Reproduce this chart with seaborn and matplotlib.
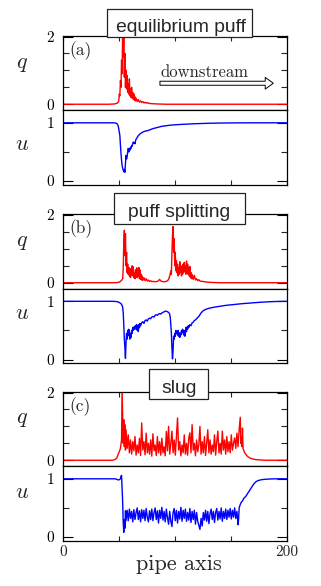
import matplotlib
matplotlib.use("Agg")
import matplotlib.pyplot as plt
from matplotlib.patches import Rectangle
import seaborn as sns

# ---------------- data ----------------
titles = ["equilibrium puff", "puff splitting", "slug"]
tags = ["(a)", "(b)", "(c)"]
x_label = "pipe axis"
arrow_label = "downstream"

x_ticks = [0, 50, 100, 150, 200]
x_tick_labels = ["0", "", "", "", "200"]
q_ticks = [0, 2]
q_tick_labels = ["0", "2"]
q_minor = [0.5, 1.0, 1.5]
u_ticks = [0, 1]
u_tick_labels = ["0", "1"]
u_minor = [0.5]

# (a) equilibrium puff : (pipe position, value)
a_q = [(0, 0.0), (40, 0.0), (44, 0.005), (46, 0.01), (47, 0.02), (48, 0.03), (49, 0.06),
       (49.5, 0.1), (50, 0.3), (50.5, 0.25), (51, 0.7), (51.5, 0.5), (52, 1.3), (52.5, 0.9),
       (53, 2.1), (53.5, 1.4), (54, 2.1), (54.5, 0.8), (55, 1.5), (55.5, 0.5), (56, 1.0),
       (56.5, 0.45), (57, 0.85), (57.5, 0.35), (58, 0.6), (58.5, 0.3), (59, 0.75), (59.5, 0.25),
       (60, 0.45), (60.5, 0.2), (61, 0.5), (61.5, 0.18), (62, 0.35), (62.5, 0.15), (63, 0.3),
       (63.5, 0.12), (64, 0.22), (64.5, 0.1), (65, 0.18), (66, 0.08), (67, 0.14), (68, 0.06),
       (69, 0.1), (70, 0.05), (71, 0.08), (72, 0.04), (73, 0.06), (74, 0.03), (75, 0.05),
       (76, 0.03), (78, 0.02), (80, 0.015), (83, 0.01), (87, 0.005), (92, 0.0), (200, 0.0)]
a_u = [(0, 1.0), (44, 1.0), (46, 0.998), (47, 0.995), (48, 0.985), (49, 0.95), (49.5, 0.9),
       (50, 0.84), (50.5, 0.78), (51, 0.62), (51.5, 0.48), (52, 0.36), (52.5, 0.27), (53, 0.22),
       (53.5, 0.19), (54, 0.16), (54.5, 0.2), (55, 0.15), (55.5, 0.3), (56, 0.44), (56.5, 0.38),
       (57, 0.42), (57.5, 0.5), (58, 0.56), (58.5, 0.5), (59, 0.55), (59.5, 0.53), (60, 0.58),
       (60.5, 0.56), (61, 0.61), (61.5, 0.6), (62, 0.64), (62.5, 0.67), (63, 0.65), (63.5, 0.66),
       (64, 0.64), (64.5, 0.69), (65, 0.72), (65.5, 0.73), (66, 0.75), (67, 0.78), (68, 0.8),
       (70, 0.83), (72, 0.85), (74, 0.86), (76, 0.87), (80, 0.9), (84, 0.92), (88, 0.94),
       (92, 0.95), (96, 0.96), (100, 0.966), (105, 0.972), (110, 0.977), (115, 0.982),
       (120, 0.986), (130, 0.992), (140, 0.996), (155, 0.999), (170, 1.0), (200, 1.0)]

# (b) puff splitting
b_q = [(0, 0.0), (44, 0.0), (48, 0.005), (50, 0.02), (51, 0.04), (52, 0.07), (53, 0.12),
       (53.5, 0.4), (54, 1.2), (54.5, 1.55), (55, 0.8), (55.5, 1.45), (56, 0.5), (56.5, 0.9),
       (57, 0.3), (57.5, 0.55), (58, 0.25), (58.5, 0.45), (59, 0.2), (59.5, 0.35), (60, 0.15),
       (60.5, 0.42), (61, 0.22), (61.5, 0.5), (62, 0.2), (62.5, 0.47), (63, 0.15), (63.5, 0.3),
       (64, 0.12), (64.5, 0.38), (65, 0.18), (65.5, 0.44), (66, 0.15), (66.5, 0.4), (67, 0.2),
       (67.5, 0.45), (68, 0.12), (68.5, 0.38), (69, 0.1), (69.5, 0.25), (70, 0.08), (70.5, 0.2),
       (71, 0.07), (72, 0.15), (73, 0.06), (74, 0.12), (75, 0.05), (76, 0.08), (77, 0.04),
       (78, 0.06), (79, 0.03), (80, 0.04), (82, 0.03), (84, 0.04), (85, 0.06), (86, 0.1),
       (87, 0.05), (88, 0.04), (90, 0.03), (92, 0.04), (93, 0.06), (94, 0.1), (95, 0.2),
       (96, 0.35), (96.5, 0.25), (97, 0.9), (97.5, 1.4), (98, 1.66), (98.5, 0.9), (99, 1.3),
       (99.5, 0.5), (100, 0.9), (100.5, 0.35), (101, 0.65), (101.5, 0.3), (102, 0.55),
       (102.5, 0.2), (103, 0.45), (103.5, 0.25), (104, 0.62), (104.5, 0.3), (105, 0.5),
       (105.5, 0.2), (106, 0.4), (106.5, 0.25), (107, 0.55), (107.5, 0.3), (108, 0.6),
       (108.5, 0.35), (109, 0.5), (109.5, 0.25), (110, 0.64), (110.5, 0.3), (111, 0.55),
       (111.5, 0.25), (112, 0.45), (112.5, 0.2), (113, 0.48), (113.5, 0.15), (114, 0.3),
       (114.5, 0.12), (115, 0.25), (116, 0.1), (117, 0.22), (118, 0.08), (119, 0.12),
       (120, 0.06), (121, 0.09), (122, 0.05), (124, 0.04), (126, 0.03), (128, 0.02),
       (132, 0.01), (140, 0.0), (200, 0.0)]
b_u = [(0, 1.0), (44, 1.0), (48, 0.995), (50, 0.98), (52, 0.95), (53, 0.9), (53.5, 0.8),
       (54, 0.6), (54.5, 0.35), (55, 0.2), (55.5, 0.02), (56, 0.3), (56.5, 0.45), (57, 0.35),
       (57.5, 0.5), (58, 0.42), (58.5, 0.52), (59, 0.4), (59.5, 0.35), (60, 0.45), (60.5, 0.38),
       (61, 0.5), (61.5, 0.45), (62, 0.55), (62.5, 0.5), (63, 0.53), (63.5, 0.57), (64, 0.52),
       (64.5, 0.58), (65, 0.55), (65.5, 0.6), (66, 0.5), (66.5, 0.58), (67, 0.48), (67.5, 0.6),
       (68, 0.55), (68.5, 0.62), (69, 0.58), (70, 0.63), (71, 0.65), (72, 0.62), (73, 0.67),
       (74, 0.68), (75, 0.66), (76, 0.7), (77, 0.71), (78, 0.7), (79, 0.73), (80, 0.74),
       (81, 0.73), (82, 0.76), (83, 0.77), (84, 0.76), (85, 0.78), (86, 0.79), (87, 0.78),
       (88, 0.8), (89, 0.81), (90, 0.82), (91, 0.83), (92, 0.83), (93, 0.82), (94, 0.81),
       (95, 0.78), (95.5, 0.72), (96, 0.6), (96.5, 0.45), (97, 0.2), (97.5, 0.01), (98, 0.15),
       (98.5, 0.4), (99, 0.35), (99.5, 0.45), (100, 0.4), (100.5, 0.5), (101, 0.45),
       (101.5, 0.48), (102, 0.42), (102.5, 0.5), (103, 0.4), (103.5, 0.46), (104, 0.38),
       (104.5, 0.45), (105, 0.42), (105.5, 0.5), (106, 0.46), (106.5, 0.52), (107, 0.48),
       (107.5, 0.42), (108, 0.5), (108.5, 0.4), (109, 0.45), (109.5, 0.55), (110, 0.48),
       (110.5, 0.56), (111, 0.52), (111.5, 0.58), (112, 0.55), (113, 0.6), (114, 0.58),
       (115, 0.63), (116, 0.64), (117, 0.67), (118, 0.68), (119, 0.7), (120, 0.72),
       (121, 0.74), (122, 0.77), (123, 0.8), (124, 0.82), (125, 0.84), (127, 0.86),
       (130, 0.88), (135, 0.9), (140, 0.915), (145, 0.93), (150, 0.94), (155, 0.95),
       (160, 0.96), (165, 0.967), (170, 0.975), (175, 0.982), (180, 0.988), (185, 0.993),
       (190, 0.997), (200, 1.0)]

# (c) slug
c_q = [(0, 0.0), (44, 0.0), (46, 0.02), (47, 0.04), (48, 0.08), (49, 0.18), (50, 0.25),
       (51, 0.35), (52, 0.6), (52.5, 2.1), (53, 1.3), (53.5, 0.5), (54, 1.2), (54.5, 0.4),
       (55, 1.05), (55.5, 0.3), (56, 0.9), (57, 0.35), (58, 0.75), (59, 0.22), (60, 0.6),
       (61, 0.18), (62, 0.55), (63, 0.28), (64, 0.7), (65, 0.15), (66, 0.45), (67, 0.22),
       (68, 0.65), (69, 0.14), (70, 1.1), (71, 0.3), (72, 0.55), (73, 0.16), (74, 0.8),
       (75, 0.22), (76, 0.5), (77, 0.18), (78, 0.6), (79, 0.12), (80, 0.78), (81, 0.28),
       (82, 0.45), (83, 0.14), (84, 0.7), (85, 0.22), (86, 0.55), (87, 0.15), (88, 0.65),
       (89, 0.22), (90, 0.4), (91, 0.13), (92, 0.85), (93, 0.28), (94, 1.0), (95, 0.18),
       (96, 0.5), (97, 0.86), (98, 0.22), (99, 0.6), (100, 0.15), (101, 0.7), (102, 1.25),
       (103, 0.3), (104, 0.55), (105, 0.13), (106, 0.45), (107, 0.22), (108, 0.75), (109, 0.18),
       (110, 0.5), (111, 0.15), (112, 0.65), (113, 0.81), (114, 0.22), (115, 1.05), (116, 0.3),
       (117, 0.5), (118, 0.13), (119, 0.6), (120, 0.25), (121, 0.45), (122, 1.0), (123, 0.18),
       (124, 0.55), (125, 0.22), (126, 0.7), (127, 0.14), (128, 0.5), (129, 0.9), (130, 0.22),
       (131, 0.6), (132, 0.18), (133, 0.45), (134, 0.25), (135, 0.75), (136, 0.15),
       (137, 0.55), (138, 0.86), (139, 0.22), (140, 0.5), (141, 0.18), (142, 0.86), (143, 0.3),
       (144, 0.6), (145, 0.18), (146, 0.7), (147, 0.25), (148, 0.55), (149, 0.22), (150, 0.75),
       (151, 0.3), (152, 0.5), (153, 0.66), (154, 0.35), (155, 0.8), (156, 0.4), (157, 0.9),
       (158, 1.27), (158.5, 0.5), (159, 0.7), (159.5, 0.4), (160, 0.95), (160.5, 0.35),
       (161, 0.3), (162, 0.22), (163, 0.17), (164, 0.13), (165, 0.1), (166, 0.08),
       (167, 0.06), (168, 0.05), (170, 0.03), (172, 0.02), (175, 0.01), (180, 0.0), (200, 0.0)]
c_u = [(0, 1.0), (46, 1.0), (47, 0.995), (48, 0.99), (49, 0.98), (50, 0.985), (51, 1.0),
       (51.5, 1.04), (52, 1.06), (52.5, 0.85), (53, 0.6), (53.5, 0.25), (54, 0.08), (54.5, 0.3),
       (55, 0.15), (55.5, 0.45), (56, 0.28), (57, 0.46), (58, 0.28), (59, 0.48), (60, 0.32),
       (61, 0.44), (62, 0.26), (63, 0.47), (64, 0.3), (65, 0.42), (66, 0.5), (67, 0.3),
       (68, 0.45), (69, 0.26), (70, 0.47), (71, 0.32), (72, 0.46), (73, 0.28), (74, 0.49),
       (75, 0.34), (76, 0.26), (77, 0.45), (78, 0.3), (79, 0.48), (80, 0.28), (81, 0.42),
       (82, 0.5), (83, 0.3), (84, 0.45), (85, 0.24), (86, 0.46), (87, 0.32), (88, 0.51),
       (89, 0.29), (90, 0.44), (91, 0.26), (92, 0.48), (93, 0.33), (94, 0.22), (95, 0.44),
       (96, 0.27), (97, 0.18), (98, 0.42), (99, 0.49), (100, 0.28), (101, 0.46), (102, 0.24),
       (103, 0.44), (104, 0.31), (105, 0.51), (106, 0.27), (107, 0.46), (108, 0.32), (109, 0.48),
       (110, 0.27), (111, 0.42), (112, 0.29), (113, 0.49), (114, 0.25), (115, 0.44), (116, 0.3),
       (117, 0.46), (118, 0.22), (119, 0.42), (120, 0.27), (121, 0.2), (122, 0.13), (123, 0.32),
       (124, 0.19), (125, 0.42), (126, 0.29), (127, 0.46), (128, 0.27), (129, 0.44), (130, 0.23),
       (131, 0.4), (132, 0.48), (133, 0.3), (134, 0.44), (135, 0.25), (136, 0.42),
       (137, 0.49), (138, 0.29), (139, 0.44), (140, 0.31), (141, 0.5), (142, 0.27), (143, 0.44),
       (144, 0.32), (145, 0.48), (146, 0.3), (147, 0.46), (148, 0.34), (149, 0.49),
       (150, 0.31), (151, 0.46), (152, 0.34), (153, 0.5), (154, 0.32), (155, 0.44),
       (156, 0.21), (156.5, 0.3), (157, 0.5), (158, 0.56), (159, 0.6), (160, 0.62),
       (161, 0.66), (162, 0.68), (163, 0.7), (164, 0.73), (165, 0.76), (166, 0.79),
       (167, 0.82), (168, 0.85), (169, 0.88), (170, 0.91), (171, 0.93), (172, 0.95),
       (174, 0.97), (177, 0.985), (181, 0.993), (186, 0.998), (190, 1.0), (200, 1.0)]

q_series = [a_q, b_q, c_q]
u_series = [a_u, b_u, c_u]

# ---------------- layout (pixels of a 321x586 canvas) ----------------
W, H = 321, 586
AX_LEFT, AX_W, AX_H = 63.3, 224.0, 74.5
panel_tops = [35.5, 214.0, 391.5]
boxes = [(107.3, 9.3, 252.3, 37.3), (114.3, 193.3, 245.0, 224.0), (149.3, 369.3, 208.3, 399.3)]
title_pos = [(180.5, 32.3), (179.2, 217.3), (178.7, 393.3)]
q_lab_base = [68.0, 246.0, 423.0]
u_lab_base = [150.0, 319.0, 498.0]

sns.set_style("white")
plt.rcParams["font.family"] = ["DejaVu Sans"]

SERIF = "cmr10"
ITAL = "cmmi10"
SANS = ["Liberation Sans", "DejaVu Sans"]
RED, BLUE = "#ff0000", "#0000ff"
LW = 1.0

fig = plt.figure(figsize=(W / 100, H / 100), dpi=100)
fig.patch.set_facecolor("white")


def add_ax(top):
    return fig.add_axes([AX_LEFT / W, 1 - (top + AX_H) / H, AX_W / W, AX_H / H])


def style(ax, is_q, bottom_panel):
    ax.set_facecolor("white")
    for s in ax.spines.values():
        s.set_visible(True)
        s.set_color("black")
        s.set_linewidth(0.9)
    ax.set_xlim(0, 200)
    if is_q:
        ax.set_ylim(-0.17, 2.03)
        ax.set_yticks(q_ticks, labels=q_tick_labels)
        ax.set_yticks(q_minor, minor=True)
    else:
        ax.set_ylim(-0.06, 1.22)
        ax.set_yticks(u_ticks, labels=u_tick_labels)
        ax.set_yticks(u_minor, minor=True)
    ax.set_xticks(x_ticks, labels=x_tick_labels if bottom_panel else [""] * len(x_ticks))
    ax.tick_params(axis="y", which="major", direction="in", length=7.2, width=0.8,
                   left=True, right=True, pad=6.5, labelsize=11, colors="black")
    ax.tick_params(axis="y", which="minor", direction="in", length=4.3, width=0.8,
                   left=True, right=True)
    ax.tick_params(axis="x", which="major", direction="in", length=3.6, width=0.8,
                   top=is_q, bottom=not is_q, labelbottom=(bottom_panel and not is_q),
                   labeltop=False, pad=3.5, labelsize=11)
    for lab in ax.get_yticklabels() + ax.get_xticklabels():
        lab.set_fontfamily(SERIF)
    ax.set_xlabel("")
    ax.set_ylabel("")


for i in range(3):
    top = panel_tops[i]
    axq = add_ax(top)
    axu = add_ax(top + AX_H)
    xq, yq = zip(*q_series[i])
    xu, yu = zip(*u_series[i])
    sns.lineplot(x=list(xq), y=list(yq), ax=axq, color=RED, linewidth=LW,
                 estimator=None, sort=False)
    sns.lineplot(x=list(xu), y=list(yu), ax=axu, color=BLUE, linewidth=LW,
                 estimator=None, sort=False)
    style(axq, True, i == 2)
    style(axu, False, i == 2)

    axq.text(0.028, 0.925, tags[i], transform=axq.transAxes, ha="left", va="top",
             fontfamily=SERIF, fontsize=12.5)

    # title box
    x0, y0, x1, y1 = boxes[i]
    fig.add_artist(Rectangle((x0 / W, 1 - y1 / H), (x1 - x0) / W, (y1 - y0) / H,
                             transform=fig.transFigure, facecolor="white",
                             edgecolor="#222222", linewidth=0.9, zorder=5))
    tx, ty = title_pos[i]
    fig.text(tx / W, 1 - ty / H, titles[i], ha="center", va="baseline",
             family=SANS, fontsize=13.9, zorder=6)

    # q / u labels
    fig.text(21.5 / W, 1 - q_lab_base[i] / H, "q", ha="center", va="baseline",
             fontfamily=ITAL, fontsize=16)
    fig.text(21.5 / W, 1 - u_lab_base[i] / H, "u", ha="center", va="baseline",
             fontfamily=ITAL, fontsize=16)

    if i == 0:
        axq.annotate("", xy=(187.5, 0.62), xytext=(86.3, 0.62),
                     arrowprops=dict(arrowstyle="simple,head_length=0.58,head_width=0.84,tail_width=0.29",
                                     fc="white", ec="black", lw=0.7, shrinkA=0, shrinkB=0,
                                     mutation_scale=10))
        axq.text(86.8, 0.79, arrow_label, ha="left", va="baseline",
                 fontfamily=SERIF, fontsize=12)

fig.text(179.3 / W, 1 - 570 / H, x_label, ha="center", va="baseline",
         fontfamily=SERIF, fontsize=16)

fig.savefig("out.png", dpi=100, facecolor="white")
